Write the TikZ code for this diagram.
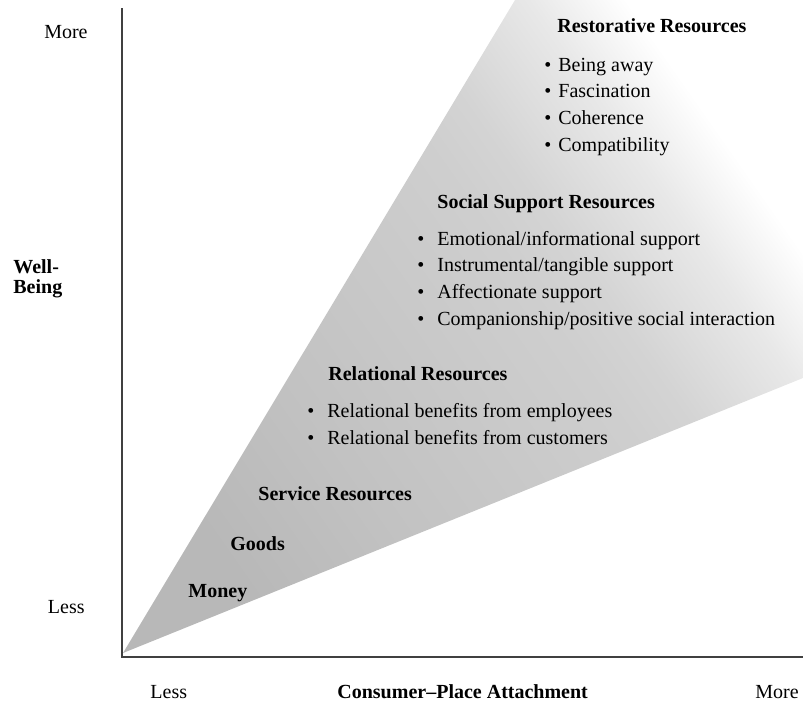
\documentclass[tikz,border=0pt]{standalone}
\usepackage{fontspec}
\setmainfont{Liberation Serif}
\usetikzlibrary{positioning}
\newcommand{\dfont}{\fontsize{10}{13.3}\selectfont}
\newcommand{\blt}{\textbullet\hspace{0.65em}}
\newcommand{\bltn}{\textbullet\hspace{0.35em}}
\pgfdeclarehorizontalshading{wedgefade}{100bp}{color(0bp)=(black!28); color(25bp)=(black!28);
  color(37bp)=(black!24); color(56bp)=(black!19); color(60bp)=(black!17); color(68bp)=(black!9); color(74bp)=(white); color(100bp)=(white)}
\tikzstyle{head}=[font=\dfont\bfseries, anchor=base west, inner sep=0pt]
\tikzstyle{lst}=[font=\dfont, align=left, anchor=base west, inner sep=0pt]
\tikzstyle{lbl}=[font=\dfont, inner sep=0pt]
\tikzstyle{axis}=[line width=0.8pt, black!75]

\begin{document}
\begin{tikzpicture}[x=0.5pt,y=-0.5pt]
\useasboundingbox (0,0) rectangle (803,702);

\coordinate (apex) at (123,653);
\coordinate (topedge) at (515,0);
\coordinate (cornr) at (803,0);
\coordinate (rightedge) at (803,378);

% wedge
\shade[shading=wedgefade, shading angle=35]
  (apex) -- (topedge) -- (cornr) -- (rightedge) -- cycle;

% axes
\coordinate (origin) at (122,657);
\coordinate (ytop) at (122,8);
\coordinate (xend) at (803,657);
\draw[axis] (ytop) -- (origin) -- (xend);

\node[lbl, anchor=base east] (ymore) at (88,38) {More};
\node[lbl, anchor=base east] (yless) at (85,613) {Less};
\node[lbl, font=\fontsize{10}{10}\selectfont\bfseries, align=left, anchor=base west] (ylab) at (13,293) {Well-\\Being};

\node[lbl, anchor=base west] (xless) at (150,698) {Less};
\node[head] (xlab) at (337,698) {Consumer--Place Attachment};
\node[lbl, anchor=base west] (xmore) at (755,698) {More};

% resources (lists anchored at their last line)
\node[head] (money) at (188,597) {Money};
\node[head] (goods) at (230,550) {Goods};
\node[head] (service) at (258,500) {Service Resources};

\node[head] (relational) at (328,380) {Relational Resources};
\node[lst] (relitems) at (307,444) {\blt Relational benefits from employees\\
  \blt Relational benefits from customers};

\node[head] (social) at (437,208) {Social Support Resources};
\node[lst] (socitems) at (417,325) {\blt Emotional/informational support\\
  \blt Instrumental/tangible support\\
  \blt Affectionate support\\
  \blt Companionship/positive social interaction};

\node[head] (restorative) at (557,32) {Restorative Resources};
\node[lst] (restitems) at (544,151) {\bltn Being away\\
  \bltn Fascination\\
  \bltn Coherence\\
  \bltn Compatibility};
\end{tikzpicture}
\end{document}
